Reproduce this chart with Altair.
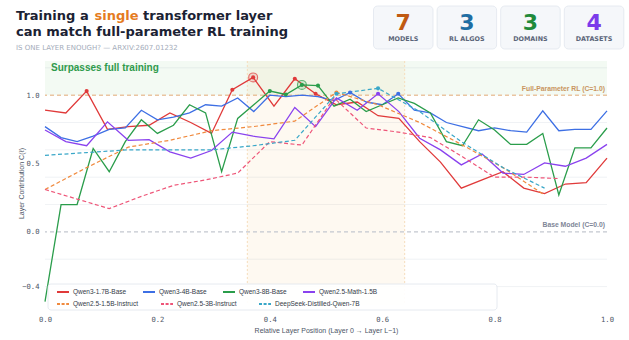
import altair as alt
import pandas as pd

# Layer contribution C(l) for each model, one value per plotted layer
qwen3_17b_base = [0.89, 0.87, 1.03, 0.75, 0.77, 0.78, 0.87, 0.80, 0.72, 1.04, 1.13, 0.92, 1.12, 1.01,
                  0.93, 0.95, 0.85, 0.83, 0.66, 0.51, 0.32, 0.38, 0.44, 0.32, 0.28, 0.35, 0.36, 0.54]
qwen3_4b_base = [0.77, 0.69, 0.66, 0.70, 0.75, 0.76, 0.89, 0.82, 0.84, 0.87, 0.93, 0.92, 0.98, 0.88,
                 1.00, 0.99, 1.00, 0.99, 0.96, 1.02, 0.95, 0.93, 1.01, 0.89, 0.87, 0.80, 0.77, 0.74,
                 0.76, 0.74, 0.73, 0.885, 0.74, 0.75, 0.75, 0.885]
qwen3_8b_base = [-0.51, 0.20, 0.20, 0.61, 0.44, 0.66, 0.82, 0.72, 0.78, 0.93, 0.87, 0.44, 0.83, 0.93,
                 1.03, 1.005, 1.075, 1.07, 0.92, 0.97, 0.88, 0.93, 0.98, 0.94, 0.87, 0.66, 0.63, 0.82,
                 0.745, 0.64, 0.64, 0.72, 0.27, 0.615, 0.615, 0.76]
qwen25_math_15b = [0.745, 0.66, 0.63, 0.805, 0.67, 0.675, 0.585, 0.54, 0.595, 0.73, 0.70, 0.68, 0.91, 0.77,
                   0.98, 0.89, 1.01, 0.88, 0.685, 0.60, 0.49, 0.57, 0.43, 0.42, 0.505, 0.48, 0.54, 0.64]
# instruct / distilled models were probed on every other layer
qwen25_15b_instruct = [0.31, 0.47, 0.62, 0.67, 0.74, 0.77, 0.81, 1.02, 0.93, 0.80, 0.64, 0.47, 0.27]
qwen25_3b_instruct = [0.31, 0.24, 0.17, 0.26, 0.34, 0.38, 0.43, 0.66, 0.635, 0.98, 0.76, 0.73, 0.69,
                      0.55, 0.40, 0.40, 0.39]
deepseek_distill_7b = [0.56, 0.58, 0.60, 0.60, 0.60, 0.63, 0.67, 1.01, 1.05, 0.88, 0.66, 0.47, 0.32]

solid_models = ["Qwen3-1.7B-Base", "Qwen3-4B-Base", "Qwen3-8B-Base", "Qwen2.5-Math-1.5B"]
solid_colors = ["#e03a3a", "#3d6fe4", "#2a9d4b", "#8a42ee"]
dashed_models = ["Qwen2.5-1.5B-Instruct", "Qwen2.5-3B-Instruct", "DeepSeek-Distilled-Qwen-7B"]
dashed_colors = ["#f08a3e", "#ee5578", "#39a7c8"]

series = {
    "Qwen3-1.7B-Base": (qwen3_17b_base, 28, 1),
    "Qwen3-4B-Base": (qwen3_4b_base, 36, 1),
    "Qwen3-8B-Base": (qwen3_8b_base, 36, 1),
    "Qwen2.5-Math-1.5B": (qwen25_math_15b, 28, 1),
    "Qwen2.5-1.5B-Instruct": (qwen25_15b_instruct, 28, 2),
    "Qwen2.5-3B-Instruct": (qwen25_3b_instruct, 36, 2),
    "DeepSeek-Distilled-Qwen-7B": (deepseek_distill_7b, 28, 2),
}
highlight_best = ["Qwen3-1.7B-Base", "Qwen3-8B-Base"]

y_ticks = [-0.4, 0.0, 0.5, 1.0]
grid_levels = [-0.4, -0.2, 0.2, 0.4, 0.6, 0.8, 1.2]
sweet_spot = (0.36, 0.64)

stat_values = ["7", "3", "3", "4"]
stat_labels = ["MODELS", "RL ALGOS", "DOMAINS", "DATASETS"]
stat_colors = ["#c05a12", "#1f6ea3", "#1f8a3b", "#7b3bea"]

color_of = dict(zip(solid_models + dashed_models, solid_colors + dashed_colors))

rows = []
for name, (vals, n_layers, stride) in series.items():
    for k, v in enumerate(vals):
        rows.append({"model": name, "x": k * stride / (n_layers - 1), "c": v, "col": color_of[name]})
df = pd.DataFrame(rows)
df_solid = df[df.model.isin(solid_models)]
df_dashed = df[df.model.isin(dashed_models)]
df_above = df[df.c > 1.0]
df_best = df[df.model.isin(highlight_best)].sort_values("c").groupby("model").tail(1)

Y_MIN, Y_MAX = -0.535, 1.25
xscale = alt.Scale(domain=[0, 1], nice=False, zero=False)
yscale = alt.Scale(domain=[Y_MIN, Y_MAX], nice=False, zero=False)
AX_GREY = "#4d5566"
xaxis = alt.Axis(values=[0, 0.2, 0.4, 0.6, 0.8, 1.0], format=".1f", grid=False, ticks=False, domain=False,
                 labelFlush=False, labelFont="DejaVu Sans Mono", labelFontSize=7.2, labelColor=AX_GREY,
                 labelPadding=10,
                 title="Relative Layer Position (Layer 0 → Layer L−1)", titleFont="Liberation Sans",
                 titleFontSize=7, titleFontWeight="normal", titleColor=AX_GREY, titlePadding=4)
yaxis = alt.Axis(values=y_ticks, format=".1f", grid=False, ticks=False, domain=False, labelFlush=False,
                 labelFont="DejaVu Sans Mono", labelFontSize=7.2, labelColor=AX_GREY, labelPadding=6,
                 title="Layer Contribution C(ℓ)", titleFont="Liberation Sans", titleFontSize=7,
                 titleFontWeight="normal", titleColor=AX_GREY, titleX=-24, titleY=122,
                 titleBaseline="middle")


def X(field):
    return alt.X(field, type="quantitative", scale=xscale, axis=xaxis)


def Y(field):
    return alt.Y(field, type="quantitative", scale=yscale, axis=yaxis)


one = pd.DataFrame({"k": [0]})

grid = alt.Chart(pd.DataFrame({"c": grid_levels})).mark_rule(color="#eceff3", strokeWidth=0.8).encode(y=Y("c"))

surpass_band = alt.Chart(pd.DataFrame({"x": [0.0], "x2": [1.0], "c": [1.0], "c2": [Y_MAX]})).mark_rect(
    color="#2ca02c", opacity=0.055).encode(x=X("x"), x2="x2", y=Y("c"), y2="c2")
sweet_band = alt.Chart(pd.DataFrame({"x": [sweet_spot[0]], "x2": [sweet_spot[1]], "c": [Y_MIN], "c2": [Y_MAX]})).mark_rect(
    color="#f5a43a", opacity=0.07).encode(x=X("x"), x2="x2", y=Y("c"), y2="c2")
sweet_edges = alt.Chart(pd.DataFrame({"x": list(sweet_spot)})).mark_rule(
    color="#f6dcbc", strokeWidth=1, strokeDash=[2, 2]).encode(x=X("x"))

ref_full = alt.Chart(pd.DataFrame({"c": [1.0]})).mark_rule(
    color="#e2aa75", strokeWidth=1, strokeDash=[4, 3]).encode(y=Y("c"))
ref_base = alt.Chart(pd.DataFrame({"c": [0.0]})).mark_rule(
    color="#c4c8d0", strokeWidth=1.4, strokeDash=[4, 3]).encode(y=Y("c"))
ref_full_lbl = alt.Chart(pd.DataFrame({"x": [1.0], "c": [1.0], "t": ["Full-Parameter RL (C=1.0)"]})).mark_text(
    align="right", baseline="middle", dx=-2, dy=-6.5, font="Liberation Sans", fontSize=6.8,
    fontWeight="bold", color="#c99560").encode(x=X("x"), y=Y("c"), text="t:N")
ref_base_lbl = alt.Chart(pd.DataFrame({"x": [1.0], "c": [0.0], "t": ["Base Model (C=0.0)"]})).mark_text(
    align="right", baseline="middle", dx=-2, dy=-6.5, font="Liberation Sans", fontSize=6.8,
    fontWeight="bold", color="#7e8697").encode(x=X("x"), y=Y("c"), text="t:N")

surpass_lbl = alt.Chart(one).mark_text(
    align="left", baseline="middle", font="Liberation Sans", fontSize=10, fontWeight="bold",
    color="#2f9a4c").encode(x=alt.value(6), y=alt.value(6.5), text=alt.value("Surpasses full training"))

legend_common = dict(orient="none", direction="horizontal", title=None, symbolType="stroke",
                     symbolSize=144, symbolStrokeWidth=2, labelFont="Liberation Sans", labelFontSize=6.5,
                     labelColor="#333a46", labelOffset=3, gridAlign="none", legendX=11, padding=0)

legend_box = alt.Chart(one).mark_rect(
    fill="white", fillOpacity=0.92, stroke="#dfe4ec", strokeWidth=0.8, cornerRadius=3).encode(
    x=alt.value(3), x2=alt.value(452), y=alt.value(223), y2=alt.value(249))

solid_lines = alt.Chart(df_solid).mark_line(strokeWidth=1.3).encode(
    x=X("x"), y=Y("c"),
    color=alt.Color("model:N", scale=alt.Scale(domain=solid_models, range=solid_colors),
                    legend=alt.Legend(columns=4, legendY=224, columnPadding=12, **legend_common)),
    order="x:Q")
dashed_lines = alt.Chart(df_dashed).mark_line(strokeWidth=1.2, strokeDash=[4, 2.5]).encode(
    x=X("x"), y=Y("c"),
    color=alt.Color("model:N", scale=alt.Scale(domain=dashed_models, range=dashed_colors),
                    legend=alt.Legend(columns=3, legendY=236, columnPadding=18, symbolDash=[3, 1.6],
                                      **legend_common)),
    order="x:Q")

dots = alt.Chart(df_above).mark_point(filled=True, size=17, opacity=1).encode(
    x=X("x"), y=Y("c"), color=alt.Color("col:N", scale=None))
rings = alt.Chart(df_best).mark_point(filled=False, size=80, strokeWidth=1.1).encode(
    x=X("x"), y=Y("c"), color=alt.Color("col:N", scale=None))
ring_fill = alt.Chart(df_best).mark_point(filled=True, size=80, opacity=0.15).encode(
    x=X("x"), y=Y("c"), color=alt.Color("col:N", scale=None))


def text_at(t, x, y, size, color, weight="normal", font="DejaVu Sans", align="left", baseline="alphabetic"):
    return alt.Chart(one).mark_text(align=align, baseline=baseline, font=font, fontSize=size,
                                    fontWeight=weight, color=color).encode(
        x=alt.value(x), y=alt.value(y), text=alt.value(t))


INK = "#1b2233"
header = [
    text_at("Training a", -29, -41, 13, INK, "bold"),
    text_at("single", 49.6, -41, 13, "#e57c1f", "bold"),
    text_at("transformer layer", 98.1, -41, 13, INK, "bold"),
    text_at("can match full-parameter RL training", -29, -25, 13, INK, "bold"),
    text_at("IS ONE LAYER ENOUGH? — ARXIV:2607.01232", -29, -13.3, 7, "#a4acba", baseline="middle"),
]

stat_layers = []
for i, (val, lab, col) in enumerate(zip(stat_values, stat_labels, stat_colors)):
    x0 = 328.5 + i * 63.6
    stat_layers.append(alt.Chart(one).mark_rect(
        fill="#f5f7fa", stroke="#e1e6ed", strokeWidth=0.8, cornerRadius=4).encode(
        x=alt.value(x0), x2=alt.value(x0 + 59.5), y=alt.value(-55), y2=alt.value(-12)))
    stat_layers.append(text_at(val, x0 + 29.75, -31, 22, col, "bold", align="center"))
    stat_layers.append(text_at(lab, x0 + 29.75, -21.7, 6.4, "#5b6579", "bold", align="center",
                               baseline="middle"))

chart = alt.layer(
    grid, surpass_band, sweet_band, sweet_edges, ref_full, ref_base, ref_full_lbl, ref_base_lbl,
    surpass_lbl, solid_lines, dashed_lines, dots, ring_fill, rings, legend_box, *header, *stat_layers
).resolve_scale(color="independent").properties(
    width=562, height=244,
    autosize=alt.AutoSizeParams(type="none"),
    padding={"left": 45, "top": 61, "right": 22, "bottom": 35},
    background="white",
).configure_view(stroke=None)

chart.save("out.html", embed_options={"renderer": "svg", "actions": False})
